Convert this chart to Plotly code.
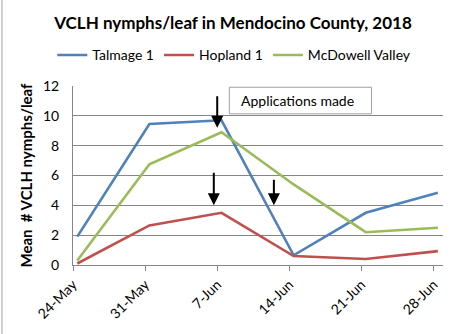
import plotly.graph_objects as go

# Sampling dates (field visits, morning counts)
dates = ["2018-05-24 10:00", "2018-05-31 10:00", "2018-06-07 10:00",
         "2018-06-14 10:00", "2018-06-21 10:00", "2018-06-28 10:00"]
tick_dates = ["2018-05-24", "2018-05-31", "2018-06-07",
              "2018-06-14", "2018-06-21", "2018-06-28"]
tick_labels = ["24-May", "31-May", "7-Jun", "14-Jun", "21-Jun", "28-Jun"]

talmage = [1.9, 9.45, 9.7, 0.65, 3.5, 4.85]
hopland = [0.1, 2.65, 3.5, 0.6, 0.4, 0.93]
mcdowell = [0.3, 6.75, 8.9, 5.4, 2.2, 2.5]

# Insecticide application markers: (date, value the arrow points at)
app_dates = ["2018-06-07 00:00", "2018-06-06 16:00", "2018-06-12 12:00"]
app_values = [9.2, 4.0, 4.0]
app_lengths = [33, 34, 27]

FONT = "Lato, Open Sans, sans-serif"

fig = go.Figure()
for name, vals, color in [("Talmage 1", talmage, "#4F81BD"),
                          ("Hopland 1", hopland, "#C0504D"),
                          ("McDowell Valley", mcdowell, "#9BBB59")]:
    fig.add_trace(go.Scatter(x=dates, y=vals, name=name, mode="lines",
                             line=dict(color=color, width=2.6)))

for d, v, L in zip(app_dates, app_values, app_lengths):
    fig.add_annotation(x=d, y=v, xref="x", yref="y", ax=0, ay=-L,
                       showarrow=True, arrowhead=2, arrowsize=1.2,
                       arrowwidth=2, arrowcolor="black", text="")

fig.add_annotation(xref="paper", yref="paper", x=0.449, y=0.919,
                   xanchor="left", yanchor="middle", showarrow=False,
                   text="Applications made",
                   font=dict(family=FONT, size=14, color="black"))

fig.update_layout(
    width=466, height=334,
    margin=dict(l=73, r=23, t=86, b=67),
    paper_bgcolor="white", plot_bgcolor="white",
    font=dict(family=FONT, size=13, color="black"),
    title=dict(text="<b>VCLH nymphs/leaf in Mendocino County, 2018</b>",
               x=0.5, xanchor="center", y=0.932, yanchor="middle",
               font=dict(family=FONT, size=17, color="black")),
    legend=dict(orientation="h", x=0.436, xanchor="center",
                y=1.171, yanchor="middle", font=dict(family=FONT, size=14),
                itemwidth=30),
    showlegend=True,
    shapes=[
        # chart frame edge on the left
        dict(type="line", xref="paper", yref="paper",
             x0=-0.192, x1=-0.192, y0=-0.4, y1=1.5,
             line=dict(color="#A0A0A0", width=1)),
        # box around the "Applications made" label
        dict(type="rect", xref="paper", yref="paper",
             x0=0.4225, x1=0.8068, y0=0.8445, y1=0.993,
             line=dict(color="#A0A0A0", width=1), fillcolor="white",
             layer="below"),
    ],
)

fig.update_xaxes(type="date", range=["2018-05-24", "2018-06-28 22:00"],
                 tickvals=tick_dates, ticktext=tick_labels, tickangle=-45,
                 ticks="outside", ticklen=5, tickcolor="#868686",
                 showline=True, linecolor="#868686", linewidth=1,
                 showgrid=False, zeroline=False,
                 tickfont=dict(family=FONT, size=14))
fig.update_yaxes(range=[0, 12], dtick=2, showgrid=True, gridcolor="#868686",
                 gridwidth=1, showline=True, linecolor="#868686",
                 zeroline=False, ticks="", ticklabelstandoff=10,
                 tickfont=dict(family=FONT, size=14),
                 title=dict(text="<b>Mean  # VCLH nymphs/leaf</b>",
                            standoff=6, font=dict(family=FONT, size=15)))

fig.write_html("out.html")
